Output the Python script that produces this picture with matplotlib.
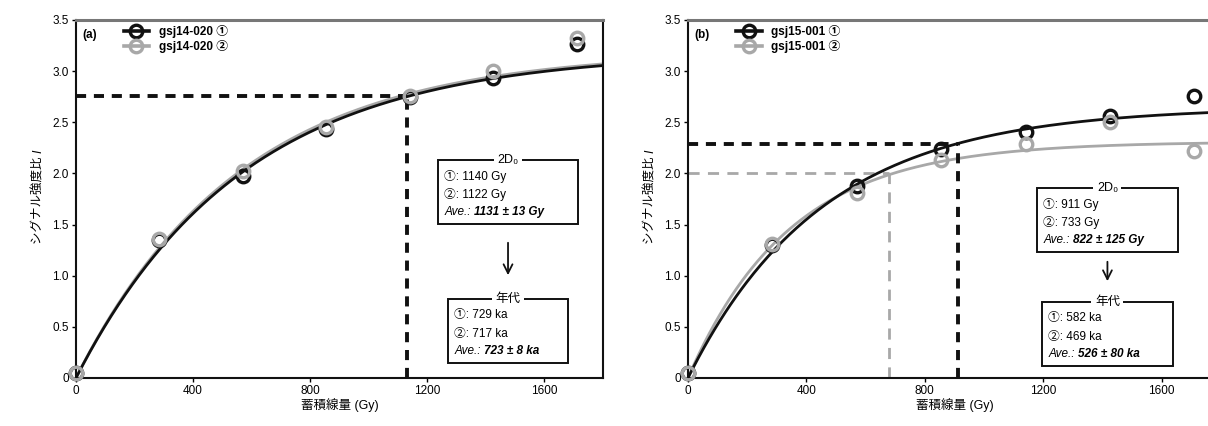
import matplotlib
matplotlib.use("Agg")
import numpy as np
import matplotlib.pyplot as plt
from matplotlib.patches import Rectangle
from matplotlib.lines import Line2D

plt.rcParams["font.family"] = ["Liberation Sans", "Noto Sans CJK JP", "DejaVu Sans"]

# --------------------------------------------------------------------------
# data
# --------------------------------------------------------------------------
dose = [0, 285, 570, 855, 1140, 1425, 1710]

a_labels = ["gsj14-020 ①", "gsj14-020 ②"]
a_s1 = [0.05, 1.35, 1.97, 2.43, 2.75, 2.93, 3.27]
a_s2 = [0.05, 1.36, 2.02, 2.45, 2.76, 3.00, 3.32]
a_fit_amp = [3.19, 3.20]          # saturating-exponential fit A
a_fit_d0 = [570, 561]             # fit D0 (Gy)
a_2d0 = [1131]                    # mean 2D0 marker (Gy)
a_2d0_y = [2.76]

b_labels = ["gsj15-001 ①", "gsj15-001 ②"]
b_s1 = [0.05, 1.30, 1.88, 2.24, 2.40, 2.56, 2.76]
b_s2 = [0.05, 1.31, 1.81, 2.13, 2.29, 2.50, 2.22]
b_fit_amp = [2.65, 2.31]
b_fit_d0 = [455, 345]
b_2d0 = [911, 680]                # black / gray dashed marker x
b_2d0_y = [2.29, 2.00]

a_box1 = ["①: 1140 Gy", "②: 1122 Gy"]
a_ave1 = "1131 ± 13 Gy"
a_box2 = ["①: 729 ka", "②: 717 ka"]
a_ave2 = "723 ± 8 ka"
b_box1 = ["①: 911 Gy", "②: 733 Gy"]
b_ave1 = "822 ± 125 Gy"
b_box2 = ["①: 582 ka", "②: 469 ka"]
b_ave2 = "526 ± 80 ka"

xticks = [0, 400, 800, 1200, 1600]
yticks = [0, 0.5, 1.0, 1.5, 2.0, 2.5, 3.0, 3.5]
ytick_labels = ["0", "0.5", "1.0", "1.5", "2.0", "2.5", "3.0", "3.5"]

BLACK = "#111111"
GRAY = "#a8a8a8"
FS = 8.5


def fit_curve(x, amp, d0):
    return amp * (1 - np.exp(-x / d0))


def fieldset(ax, x0, y0, w, h, title, lines, ave):
    """Box with its title sitting in the top border (axes fraction coords)."""
    ax.add_patch(Rectangle((x0, y0), w, h, transform=ax.transAxes,
                           fill=False, edgecolor=BLACK, linewidth=1.4,
                           zorder=6, clip_on=False))
    ax.text(x0 + w / 2, y0 + h, title, transform=ax.transAxes,
            ha="center", va="center", fontsize=FS + 0.5, zorder=7,
            bbox=dict(facecolor="white", edgecolor="none", pad=2.5))
    step = h / 3.5
    for i, s in enumerate(lines):
        ax.text(x0 + 0.012, y0 + h - step * (i + 0.9), s,
                transform=ax.transAxes, ha="left", va="center",
                fontsize=FS, zorder=7)
    t = ax.text(x0 + 0.012, y0 + h - step * 2.85, "Ave.: ",
                transform=ax.transAxes, ha="left", va="center",
                fontsize=FS, style="italic", zorder=7)
    ax.annotate(ave, xy=(1, 0.5), xycoords=t, ha="left", va="center",
                fontsize=FS, style="italic", fontweight="bold", zorder=7)


def panel(ax, tag, labels, s1, s2, amps, d0s, hx, hy, box1, ave1, box2, ave2,
          gray_guides, boxpos, arrow):
    xs = np.linspace(0, 1800, 300)
    ax.plot(xs, fit_curve(xs, amps[1], d0s[1]), color=GRAY, lw=2, zorder=2)
    ax.plot(xs, fit_curve(xs, amps[0], d0s[0]), color=BLACK, lw=2, zorder=3)

    # dashed 2D0 guides
    if gray_guides:
        ax.plot([0, hx[1]], [hy[1], hy[1]], color=GRAY, lw=2, ls=(0, (4, 3)), zorder=1)
        ax.plot([hx[1], hx[1]], [0, hy[1]], color=GRAY, lw=2, ls=(0, (4, 3)), zorder=1)
    ax.plot([0, hx[0]], [hy[0], hy[0]], color=BLACK, lw=2.8, ls=(0, (2.6, 2)), zorder=4)
    ax.plot([hx[0], hx[0]], [0, hy[0]], color=BLACK, lw=2.8, ls=(0, (2.6, 2)), zorder=4)

    mk = dict(marker="o", markersize=9, markeredgewidth=2.4,
              markerfacecolor="none", ls="none", clip_on=False)
    ax.plot(dose, s1, markeredgecolor=BLACK, zorder=5, **mk)
    ax.plot(dose, s2, markeredgecolor=GRAY, zorder=5, **mk)

    ax.set_xlim(0, 1800)
    ax.set_ylim(0, 3.5)
    ax.set_xticks(xticks)
    ax.set_yticks(yticks)
    ax.set_yticklabels(ytick_labels)
    ax.tick_params(direction="out", length=3, width=1, labelsize=FS, pad=2)
    for sp in ax.spines.values():
        sp.set_linewidth(1.5)
        sp.set_color(BLACK)
    ax.spines["top"].set_color("#777777")
    ax.spines["top"].set_linewidth(2.2)
    ax.set_xlabel("蓄積線量 (Gy)", fontsize=FS + 0.5, labelpad=1)
    ax.set_ylabel("シグナル強度比 ", fontsize=FS + 0.5, labelpad=6)
    ax.annotate("I", xy=(0.5, 1), xycoords=ax.yaxis.label, rotation=90,
                ha="center", va="bottom", fontsize=FS + 0.5, style="italic")

    ax.text(0.012, 0.975, tag, transform=ax.transAxes, ha="left", va="top",
            fontsize=FS, fontweight="bold")
    handles = [
        Line2D([], [], color=BLACK, lw=2.6, marker="o", markersize=9,
               markeredgewidth=2.4, markerfacecolor="none"),
        Line2D([], [], color=GRAY, lw=2.6, marker="o", markersize=9,
               markeredgewidth=2.4, markerfacecolor="none"),
    ]
    ax.legend(handles, labels, loc="upper left", bbox_to_anchor=(0.07, 1.015),
              frameon=False, handlelength=2.2, handletextpad=0.8,
              labelspacing=0.15, prop=dict(size=FS, weight="bold"))

    (b1x, b1y, b1w, b1h), (b2x, b2y, b2w, b2h) = boxpos
    fieldset(ax, b1x, b1y, b1w, b1h, "2D₀", box1, ave1)
    fieldset(ax, b2x, b2y, b2w, b2h, "年代", box2, ave2)
    ax.annotate("", xy=(b1x + b1w / 2, arrow[1]),
                xytext=(b1x + b1w / 2, arrow[0]),
                xycoords="axes fraction",
                arrowprops=dict(arrowstyle="->", color=BLACK, lw=1.3,
                                mutation_scale=16))


fig = plt.figure(figsize=(12.08, 4.26), dpi=100)
ax_a = fig.add_axes([0.0629, 0.1127, 0.4363, 0.8404])
ax_b = fig.add_axes([0.5695, 0.1127, 0.4412, 0.8404])

H = 358.0
W_a = 527.0
W_b = 533.0
panel(ax_a, "(a)", a_labels, a_s1, a_s2, a_fit_amp, a_fit_d0,
      a_2d0, a_2d0_y, a_box1, a_ave1, a_box2, a_ave2, False,
      [((438 - 76) / W_a, (378 - 224) / H, 140 / W_a, 64 / H),
       ((448 - 76) / W_a, (378 - 363) / H, 120 / W_a, 64 / H)],
      ((378 - 240) / H, (378 - 278) / H))
panel(ax_b, "(b)", b_labels, b_s1, b_s2, b_fit_amp, b_fit_d0,
      b_2d0, b_2d0_y, b_box1, b_ave1, b_box2, b_ave2, True,
      [((1037 - 688) / W_b, (378 - 252) / H, 141 / W_b, 64 / H),
       ((1042 - 688) / W_b, (378 - 366) / H, 131 / W_b, 64 / H)],
      ((378 - 259) / H, (378 - 284) / H))

fig.savefig("out.png", dpi=100, facecolor="white")
